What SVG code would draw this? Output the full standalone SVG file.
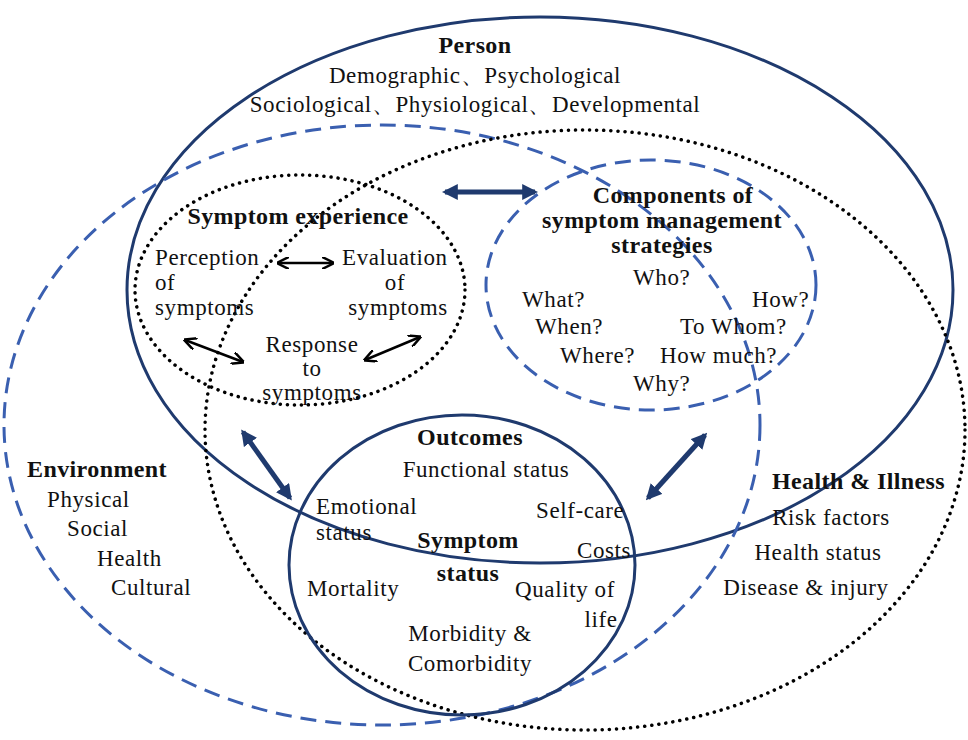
<svg xmlns="http://www.w3.org/2000/svg" width="968" height="740" viewBox="0 0 968 740">
<defs>
<marker id="nv" viewBox="0 0 10 10" refX="8" refY="5" markerWidth="3.2" markerHeight="3.2" orient="auto-start-reverse"><path d="M0,0 L10,5 L0,10 z" fill="#1f3a6e"/></marker>
<marker id="bk" viewBox="0 0 10 10" refX="9" refY="5" markerWidth="5" markerHeight="5" orient="auto-start-reverse"><path d="M0,0 L10,5 L0,10" fill="none" stroke="#000" stroke-width="2"/></marker>
</defs>
<style>
text{font-family:"Liberation Serif",serif;font-size:23px;letter-spacing:0.6px;fill:#111}
.b{font-weight:bold;font-size:24px;letter-spacing:0.4px}
.solid{fill:none;stroke:#1f3a6e;stroke-width:3}
.dash{fill:none;stroke:#3a5fb0;stroke-width:3;stroke-dasharray:16 9}
.dot{fill:none;stroke:#000;stroke-width:3.5;stroke-dasharray:0.1 7;stroke-linecap:round}
.na{stroke:#1f3a6e;stroke-width:5;marker-start:url(#nv);marker-end:url(#nv)}
.ba{stroke:#000;stroke-width:2.5;marker-start:url(#bk);marker-end:url(#bk)}
</style>
<rect width="968" height="740" fill="#fff"/>
<g id="person"><ellipse class="solid" cx="540" cy="290" rx="413" ry="273"/>
<text x="475" y="53" text-anchor="middle" class="b">Person</text>
<text x="475" y="83" text-anchor="middle">Demographic、Psychological</text>
<text x="475" y="112" text-anchor="middle">Sociological、Physiological、Developmental</text></g>
<g id="environment"><ellipse class="dash" cx="382" cy="425" rx="378" ry="300"/>
<text x="27" y="477" class="b">Environment</text>
<text x="47" y="507">Physical</text><text x="67" y="536">Social</text><text x="97" y="566">Health</text><text x="111" y="595">Cultural</text></g>
<g id="health"><ellipse class="dot" cx="585" cy="430" rx="380" ry="300"/>
<text x="772" y="489" class="b">Health &amp; Illness</text>
<text x="831" y="525" text-anchor="middle">Risk factors</text>
<text x="818" y="560" text-anchor="middle">Health status</text>
<text x="806" y="595" text-anchor="middle">Disease &amp; injury</text></g>
<g id="symptom-experience"><ellipse class="dot" cx="300" cy="290" rx="165" ry="115"/>
<text x="298" y="224" text-anchor="middle" class="b">Symptom experience</text>
<text x="155" y="265">Perception</text><text x="155" y="290">of</text><text x="155" y="315">symptoms</text>
<text x="342" y="265">Evaluation</text><text x="395" y="290" text-anchor="middle">of</text><text x="398" y="315" text-anchor="middle">symptoms</text>
<text x="312" y="352" text-anchor="middle">Response</text><text x="312" y="376" text-anchor="middle">to</text><text x="312" y="400" text-anchor="middle">symptoms</text></g>
<g id="components"><ellipse class="dash" cx="651" cy="285" rx="165" ry="125"/>
<text x="673" y="203" text-anchor="middle" class="b">Components of</text>
<text x="662" y="228" text-anchor="middle" class="b">symptom management</text>
<text x="662" y="253" text-anchor="middle" class="b">strategies</text>
<text x="633" y="285">Who?</text><text x="522" y="307">What?</text><text x="752" y="307">How?</text>
<text x="535" y="334">When?</text><text x="680" y="334">To Whom?</text>
<text x="560" y="363">Where?</text><text x="660" y="363">How much?</text><text x="633" y="391">Why?</text></g>
<g id="outcomes"><ellipse class="solid" cx="462" cy="565" rx="173" ry="150"/>
<text x="470" y="445" text-anchor="middle" class="b">Outcomes</text>
<text x="486" y="477" text-anchor="middle">Functional status</text>
<text x="316" y="514">Emotional</text><text x="316" y="540">status</text>
<text x="536" y="518">Self-care</text>
<text x="468" y="548" text-anchor="middle" class="b">Symptom</text>
<text x="468" y="581" text-anchor="middle" class="b">status</text>
<text x="577" y="558">Costs</text>
<text x="307" y="596">Mortality</text>
<text x="565" y="597" text-anchor="middle">Quality of</text><text x="601" y="627" text-anchor="middle">life</text>
<text x="470" y="641" text-anchor="middle">Morbidity &amp;</text>
<text x="470" y="671" text-anchor="middle">Comorbidity</text></g>
<g id="connectors">
<line class="na" x1="445" y1="192" x2="535" y2="192"/>
<line class="na" x1="243" y1="432" x2="290" y2="498"/>
<line class="na" x1="705" y1="435" x2="648" y2="498"/>
<line class="ba" x1="278" y1="263" x2="333" y2="263"/>
<line class="ba" x1="185" y1="340" x2="243" y2="362"/>
<line class="ba" x1="365" y1="360" x2="420" y2="337"/>
</g>
</svg>
